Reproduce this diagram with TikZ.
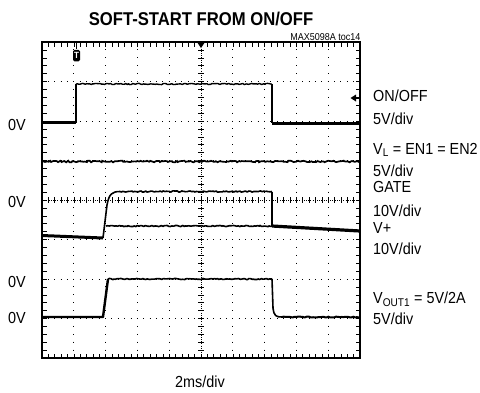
\documentclass[tikz,border=0pt]{standalone}
\usepackage{fontspec}
\setmainfont{Liberation Sans}[FakeStretch=0.9]
\usetikzlibrary{decorations.pathmorphing}
\begin{document}
\pgfmathsetseed{7}
\begin{tikzpicture}[x=1pt,y=-1pt,
  frame/.style={line width=2.6pt},
  gridv/.style={line width=1pt, dash pattern=on 1pt off 6.9pt},
  gridh/.style={line width=1pt, dash pattern=on 1pt off 5.36pt},
  axis/.style={line width=0.6pt, dash pattern=on 1pt off 1.2pt},
  tick/.style={line width=0.6pt},
  trace/.style={line width=2.4pt, line join=round},
  noisy/.style={line width=1.7pt, decorate, decoration={random steps, segment length=1.6pt, amplitude=0.8pt}},
  lab/.style={anchor=west, inner sep=0pt, font=\fontsize{16}{16}\selectfont},
  lft/.style={anchor=center, inner sep=0pt, font=\fontsize{16}{16}\selectfont}]
\path[use as bounding box] (0,0) rectangle (480,392);
% title
\node[inner sep=0pt, font=\bfseries\fontsize{18.5}{18.5}\selectfont] (title) at (201,18.5) {SOFT-START FROM ON/OFF};
\node[anchor=east, inner sep=0pt, font=\fontsize{10}{10}\selectfont] (toc) at (360.5,37.5) {MAX5098A toc14};
% grid
\foreach \i in {1,...,9} {
  \ifnum\i=5\else
  \draw[gridv] ({42+\i*31.8},41.5) -- ({42+\i*31.8},358);
  \fi}
\foreach \j in {1,...,7} {
  \ifnum\j=4\else
  \draw[gridh] (41.5,{42+\j*39.5}) -- (360,{42+\j*39.5});
  \fi}
% center axes
\draw[axis] (201,42) -- (201,358);
\draw[axis] (42,200) -- (360,200);
\foreach \k in {1,...,49} {
  \draw[tick] ({42+\k*6.36},197) -- ({42+\k*6.36},203);
  \draw[tick] ({42+\k*6.36},42) -- ({42+\k*6.36},46.5);
  \draw[tick] ({42+\k*6.36},358) -- ({42+\k*6.36},353.5);}
\foreach \k in {1,...,39} {
  \draw[tick] (198,{42+\k*7.9}) -- (204,{42+\k*7.9});
  \draw[tick] (42,{42+\k*7.9}) -- (46.5,{42+\k*7.9});
  \draw[tick] (360,{42+\k*7.9}) -- (355.5,{42+\k*7.9});}
% frame
\draw[frame] (42,42) rectangle (360,358);
% markers
\draw[line width=1pt] (76.5,42) -- (76.5,49);
\node[fill=black, rounded corners=1.5pt, minimum width=7pt, minimum height=11.5pt, inner sep=0pt, text=white, font=\bfseries\fontsize{9}{9}\selectfont] (trig) at (76.5,55.5) {T};
\fill (197,42) -- (205,42) -- (201,48) -- cycle;
\fill (350.5,98) -- (356,94.5) -- (356,101.5) -- cycle;
\draw[line width=1.2pt] (355,98) -- (359,98);
% ON/OFF trace
\draw[trace, line width=3pt] (42,122.5) -- (76,122.5);
\draw[trace] (76,122.5) -- (76,84);
\draw[trace,line width=1.4pt, decorate, decoration={random steps, segment length=1.5pt, amplitude=0.6pt}] (76,84) -- (272,84);
\draw[trace] (272,84) -- (272,123);
\draw[trace, line width=3pt] (272,123) -- (360,123);
% VL trace
\draw[noisy] (42,161.5) -- (360,161.5);
% GATE and V+ traces
\draw[trace, line width=3pt] (42,235.5) -- (103,238);
\draw[trace, line width=1.6pt] (103,238) -- (107,205) .. controls (109,194) and (112,191.5) .. (120,191.5);
\draw[trace, line width=1.6pt, decorate, decoration={random steps, segment length=1.5pt, amplitude=0.6pt}] (120,191.5) -- (272,191.5);
\draw[trace, line width=1.4pt] (272,191.5) -- (272,226);
\draw[trace, line width=1.6pt, decorate, decoration={random steps, segment length=1.5pt, amplitude=0.6pt}] (106,226) -- (272,226);
\draw[trace, line width=3.2pt] (272,226) -- (360,231);
% VOUT1 trace
\draw[trace] (42,317) -- (103,317) -- (108,279);
\draw[trace, line width=1.6pt, decorate, decoration={random steps, segment length=1.5pt, amplitude=0.6pt}] (108,279) -- (272,279);
\draw[trace, line width=1.6pt] (272,279) -- (273,308) .. controls (274,316) and (276,317) .. (282,317);
\draw[trace, line width=2pt, decorate, decoration={random steps, segment length=1.5pt, amplitude=0.5pt}] (282,317) -- (360,317);
% left labels
\node[lft] (z1) at (17,125) {0V};
\node[lft] (z2) at (17,201.5) {0V};
\node[lft] (z3) at (17,281.5) {0V};
\node[lft] (z4) at (17,318) {0V};
% right labels
\node[lab] (l1) at (373,96) {ON/OFF};
\node[lab] (l2) at (373,119) {5V/div};
\node[lab] (l3) at (373,150) {V\textsubscript{L} = EN1 = EN2};
\node[lab] (l4) at (373,170.5) {5V/div};
\node[lab] (l5) at (373,187) {GATE};
\node[lab] (l6) at (373,211) {10V/div};
\node[lab] (l7) at (373,228) {V+};
\node[lab] (l8) at (373,249) {10V/div};
\node[lab] (l9) at (373,299) {V\textsubscript{OUT1} = 5V/2A};
\node[lab] (l10) at (373,319) {5V/div};
\node[lft] (xdiv) at (200,381.5) {2ms/div};
\end{tikzpicture}
\end{document}
